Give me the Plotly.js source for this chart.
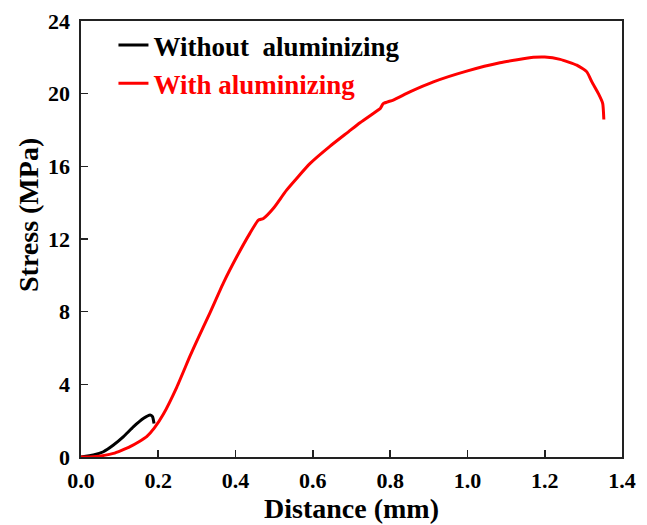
<!DOCTYPE html>
<html>
<head>
<meta charset="utf-8">
<script src="https://cdn.plot.ly/plotly-3.0.1.min.js"></script>
<style>
  html, body { margin: 0; padding: 0; background: #fff; }
  #chart { width: 647px; height: 525px; }
</style>
</head>
<body>
<div id="chart"></div>
<script>
// Tensile stress vs. crosshead distance
const seriesNames = ['Without  aluminizing', 'With aluminizing'];

const plainDistance = [0, 0.032, 0.058, 0.084, 0.11, 0.136, 0.162, 0.179, 0.185, 0.189];
const plainStress   = [0, 0.11, 0.29, 0.66, 1.12, 1.67, 2.13, 2.31, 2.22, 1.85];

const alDistance = [0, 0.032, 0.06, 0.084, 0.105, 0.127, 0.15, 0.17, 0.19, 0.213, 0.248, 0.282, 0.299,
                    0.334, 0.368, 0.403, 0.437, 0.459, 0.472, 0.498, 0.532, 0.593, 0.644, 0.692,
                    0.722, 0.769, 0.775, 0.782, 0.808, 0.851, 0.912, 0.998, 1.084, 1.171, 1.20,
                    1.24, 1.283, 1.309, 1.322, 1.339, 1.35, 1.353];
const alStress   = [0, 0.02, 0.09, 0.2, 0.37, 0.57, 0.84, 1.12, 1.6, 2.35, 3.85, 5.55, 6.35,
                    7.95, 9.56, 11.02, 12.31, 13.04, 13.13, 13.69, 14.69, 16.16, 17.1, 17.9,
                    18.4, 19.1, 19.2, 19.45, 19.65, 20.1, 20.65, 21.24, 21.7, 22.0, 22.02,
                    21.89, 21.57, 21.2, 20.65, 20.0, 19.47, 18.58];

const xTicks = [0, 0.2, 0.4, 0.6, 0.8, 1.0, 1.2, 1.4];
const yTicks = [0, 4, 8, 12, 16, 20, 24];

const serif = '"Liberation Serif", "Times New Roman", serif';

const traces = [
  { x: plainDistance, y: plainStress, name: seriesNames[0], mode: 'lines',
    line: { color: '#000000', width: 3, shape: 'spline', smoothing: 0.5 } },
  { x: alDistance, y: alStress, name: seriesNames[1], mode: 'lines',
    line: { color: '#ff0000', width: 3, shape: 'spline', smoothing: 0.5 } }
];

const axisCommon = {
  showline: true, linecolor: '#222', linewidth: 1.6, mirror: true,
  ticks: 'inside', ticklen: 7, tickwidth: 1.6, tickcolor: '#222',
  showgrid: false, zeroline: false,
  tickfont: { family: serif, size: 22, color: '#000', weight: 'bold' }
};

const layout = {
  width: 647, height: 525,
  paper_bgcolor: '#fff', plot_bgcolor: '#fff',
  margin: { l: 81, r: 25, t: 21, b: 68 },
  showlegend: true,
  legend: {
    x: 0.06, y: 1.0, xanchor: 'left', yanchor: 'top',
    bgcolor: 'rgba(0,0,0,0)', borderwidth: 0,
    font: { family: serif, size: 27, color: '#000', weight: 'bold' },
    tracegroupgap: 0
  },
  xaxis: Object.assign({}, axisCommon, {
    range: [0, 1.4], tickvals: xTicks, ticktext: xTicks.map(v => v.toFixed(1)),
    ticklabelstandoff: 3,
    title: { text: 'Distance (mm)', standoff: 4,
             font: { family: serif, size: 28, color: '#000', weight: 'bold' } }
  }),
  yaxis: Object.assign({}, axisCommon, {
    range: [0, 24], tickvals: yTicks, ticktext: yTicks.map(String),
    ticklabelstandoff: 5,
    title: { text: '' }
  }),
  annotations: [{
    text: 'Stress (MPa)', textangle: -90, showarrow: false,
    xref: 'paper', yref: 'paper', x: -0.098, y: 0.555, xanchor: 'center', yanchor: 'middle',
    font: { family: serif, size: 28, color: '#000', weight: 'bold' }
  }]
};

Plotly.newPlot('chart', traces, layout, { displayModeBar: false, staticPlot: true }).then(() => {
  // colour each legend entry's text like its line
  document.querySelectorAll('.legend .traces').forEach((g, i) => {
    const t = g.querySelector('text.legendtext');
    if (t) t.style.fill = traces[i].line.color;
  });
});
</script>
</body>
</html>
